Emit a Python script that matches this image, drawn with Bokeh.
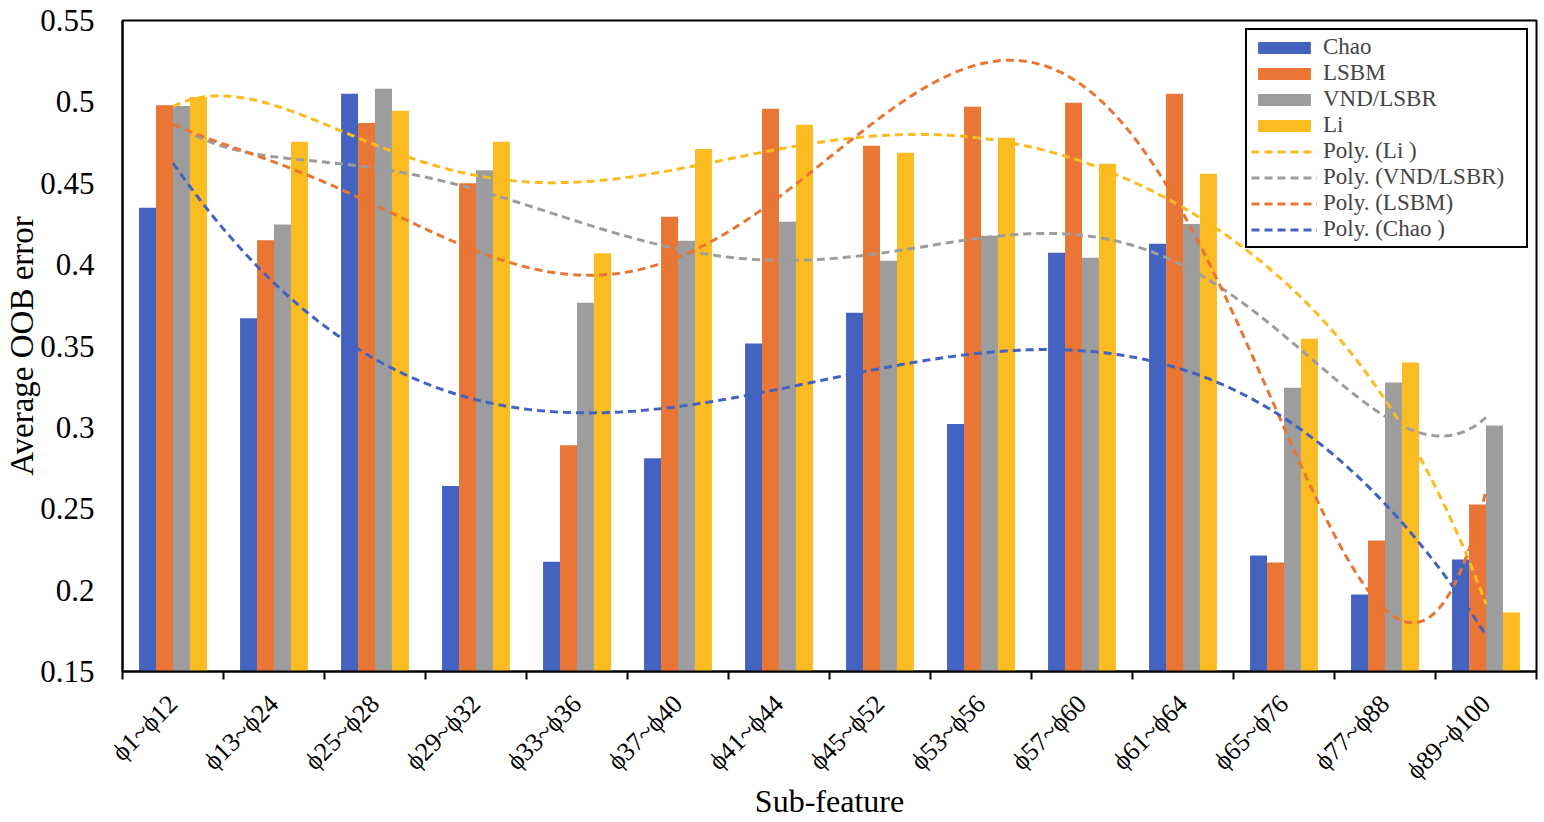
import numpy as np
from bokeh.plotting import figure
from bokeh.models import Range1d, FixedTicker, CustomJSTickFormatter, Legend, LegendItem
from bokeh.embed import file_html
from bokeh.resources import INLINE

categories = ["ϕ1~ϕ12", "ϕ13~ϕ24", "ϕ25~ϕ28", "ϕ29~ϕ32", "ϕ33~ϕ36", "ϕ37~ϕ40",
              "ϕ41~ϕ44", "ϕ45~ϕ52", "ϕ53~ϕ56", "ϕ57~ϕ60", "ϕ61~ϕ64", "ϕ65~ϕ76",
              "ϕ77~ϕ88", "ϕ89~ϕ100"]
chao = [0.435, 0.367, 0.505, 0.264, 0.2175, 0.281, 0.3515, 0.3705, 0.302, 0.4073,
        0.4128, 0.2212, 0.1973, 0.2188]
lsbm = [0.498, 0.415, 0.487, 0.450, 0.289, 0.4294, 0.4957, 0.473, 0.497, 0.4994,
        0.505, 0.217, 0.2305, 0.2526]
vnd = [0.4975, 0.4246, 0.508, 0.458, 0.3766, 0.4147, 0.4263, 0.4024, 0.4177, 0.4042,
       0.425, 0.3244, 0.3275, 0.3011]
li = [0.503, 0.4755, 0.4945, 0.4755, 0.407, 0.471, 0.486, 0.4687, 0.478, 0.462,
      0.4558, 0.3545, 0.3398, 0.1863]
series_names = ["Chao", "LSBM", "VND/LSBR", "Li"]
trend_names = {"Li": "Poly. (Li )", "VND/LSBR": "Poly. (VND/LSBR)",
               "LSBM": "Poly. (LSBM)", "Chao": "Poly. (Chao )"}
trend_order = ["Li", "VND/LSBR", "LSBM", "Chao"]
poly_orders = {"Li": 6, "VND/LSBR": 6, "LSBM": 6, "Chao": 3}
colors = {"Chao": "#4462BF", "LSBM": "#E97634", "VND/LSBR": "#9D9D9D", "Li": "#FBBC21"}
y_ticks = [0.15, 0.2, 0.25, 0.3, 0.35, 0.4, 0.45, 0.5, 0.55]

data = {"Chao": chao, "LSBM": lsbm, "VND/LSBR": vnd, "Li": li}
n = len(categories)
FONT = "Liberation Serif"

p = figure(width=1544, height=822, x_range=Range1d(0, n), y_range=Range1d(0.15, 0.55),
           output_backend="svg", toolbar_location=None,
           min_border_left=122, min_border_right=8, min_border_top=20, min_border_bottom=151)
p.xgrid.visible = False
p.ygrid.visible = False
p.outline_line_color = "black"
p.outline_line_width = 2
p.outline_line_alpha = 1
p.background_fill_color = "white"

bw = 0.168
bar_renderers = {}
for k, name in enumerate(series_names):
    xs = [i + 0.5 + (k - 1.5) * bw for i in range(n)]
    r = p.vbar(x=xs, top=data[name], bottom=0.15, width=bw,
               fill_color=colors[name], line_color=None)
    bar_renderers[name] = r

trend_renderers = {}
xfit = np.arange(1, n + 1)
xx = np.linspace(1, n, 400)
for name in trend_order:
    coef = np.polyfit(xfit, np.array(data[name]), poly_orders[name])
    yy = np.polyval(coef, xx)
    r = p.line(xx - 0.5, yy, line_color=colors[name], line_width=3, line_dash="8 5")
    trend_renderers[name] = r

items = [LegendItem(label=nm, renderers=[bar_renderers[nm]]) for nm in series_names]
items += [LegendItem(label=trend_names[nm], renderers=[trend_renderers[nm]]) for nm in trend_order]
legend = Legend(items=items, location="top_right", margin=8, padding=4, spacing=0,
                glyph_width=66, glyph_height=15, label_standoff=6, label_width=199,
                label_height=20,
                label_text_font=FONT, label_text_font_size="23px",
                label_text_line_height=0.85,
                border_line_color="black", border_line_width=2, border_line_alpha=1,
                background_fill_alpha=1)
p.add_layout(legend)

# x axis
p.xaxis.ticker = FixedTicker(ticks=[i + 0.5 for i in range(n)], minor_ticks=list(range(n + 1)))
p.xaxis.major_label_overrides = {i + 0.5: categories[i] for i in range(n)}
p.xaxis.major_tick_in = 0
p.xaxis.major_tick_out = 0
p.xaxis.minor_tick_in = 0
p.xaxis.minor_tick_out = 8
p.xaxis.minor_tick_line_color = "black"
p.xaxis.minor_tick_line_width = 2
p.xaxis.major_label_orientation = np.pi / 4
p.xaxis.major_label_standoff = 20
p.xaxis.major_label_text_font = FONT
p.xaxis.major_label_text_font_size = "26px"
p.xaxis.major_label_text_color = "black"
p.xaxis.axis_label = "Sub-feature"
p.xaxis.axis_label_text_font = FONT
p.xaxis.axis_label_text_font_style = "normal"
p.xaxis.axis_label_text_font_size = "32px"
p.xaxis.axis_label_text_color = "black"
p.xaxis.axis_label_standoff = -15
p.xaxis.axis_line_color = "black"
p.xaxis.axis_line_width = 2

# y axis
p.yaxis.ticker = FixedTicker(ticks=y_ticks, minor_ticks=[])
p.yaxis.formatter = CustomJSTickFormatter(code="return String(parseFloat(tick.toFixed(2)));")
p.yaxis.major_tick_in = 0
p.yaxis.major_tick_out = 0
p.yaxis.minor_tick_in = 0
p.yaxis.minor_tick_out = 0
p.yaxis.major_label_standoff = 28
p.yaxis.major_label_text_font = FONT
p.yaxis.major_label_text_font_size = "31px"
p.yaxis.major_label_text_color = "black"
p.yaxis.axis_label = "Average OOB error"
p.yaxis.axis_label_text_font = FONT
p.yaxis.axis_label_text_font_style = "normal"
p.yaxis.axis_label_text_font_size = "33px"
p.yaxis.axis_label_text_color = "black"
p.yaxis.axis_label_standoff = -3
p.yaxis.axis_line_color = "black"
p.yaxis.axis_line_width = 2

open("out.html", "w").write(file_html(p, INLINE))
